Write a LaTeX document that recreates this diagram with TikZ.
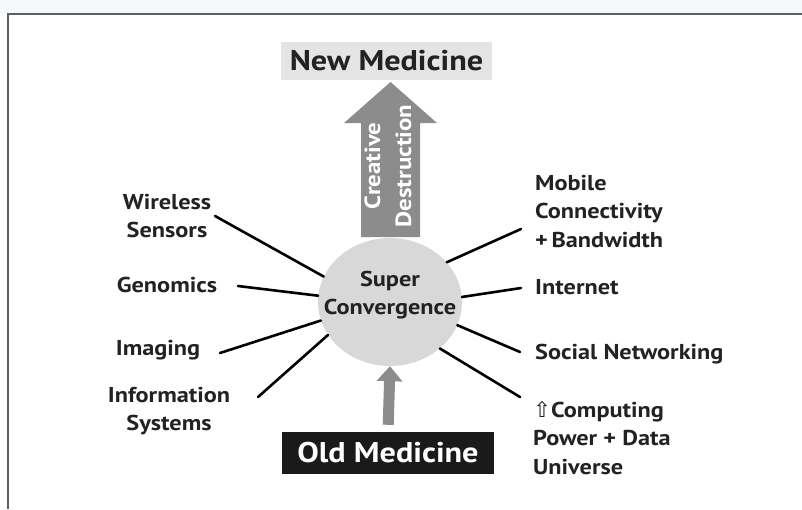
\documentclass[tikz,border=0pt]{standalone}
\usepackage{fontspec}
\setmainfont{PT Sans}[FakeStretch=1.13]
\newfontfamily\symfont{DejaVu Sans}
\usetikzlibrary{arrows.meta,shapes.geometric}
\definecolor{framec}{HTML}{5A6068}
\definecolor{topbg}{HTML}{F7F8FA}
\definecolor{boxgray}{HTML}{E4E4E4}
\definecolor{arrgray}{HTML}{8C8C8C}
\definecolor{ellgray}{HTML}{D8D8D8}
\definecolor{txt}{HTML}{222222}
\definecolor{oldbox}{HTML}{1A1A1A}
\tikzset{
  lbl/.style={text=txt, font=\bfseries\fontsize{21.5}{28.5}\selectfont, inner sep=0pt},
  spoke/.style={draw=black, line width=2.6pt, line cap=round},
}
\begin{document}
\begin{tikzpicture}[x=1pt,y=-1pt]
\useasboundingbox (0,0) rectangle (802,509);
\fill[white] (0,0) rectangle (802,509);
\fill[topbg] (0,0) rectangle (802,13);
\draw[framec, line width=1.3pt] (8,14) -- (8,509);
\draw[framec, line width=2.6pt] (7,14) -- (802,14);

% New Medicine
\node[fill=boxgray, minimum width=211pt, minimum height=38pt, inner sep=0pt,
      text=txt, font=\bfseries\fontsize{28.5}{30}\selectfont] (new) at (386.5,61) {New Medicine};

% ellipse
\node[ellipse, fill=ellgray, minimum width=144pt, minimum height=128pt, inner sep=0pt] (sc) at (390,302) {};
\node[align=center, text=txt, inner sep=0pt, font=\bfseries\fontsize{21.5}{28}\selectfont] (sctext) at (390,295) {Super\\Convergence};

% big arrow
\fill[arrgray] (361,237) -- (361,123) -- (344,123) -- (390.5,82) -- (437,123) -- (420,123) -- (420,237) -- cycle;
\node[rotate=90, text=white, align=center, inner sep=0pt,
      font=\bfseries\fontsize{22}{31}\selectfont] (cd) at (388,166) {Creative\\Destruction};

% Old medicine
\node[fill=oldbox, minimum width=212pt, minimum height=42pt, inner sep=0pt,
      text=white, font=\bfseries\fontsize{28.5}{30}\selectfont] (old) at (388,453) {Old Medicine};
\draw[arrgray, line width=11pt, -{Triangle[width=25pt,length=15pt]}, shorten <=7pt] (old.north) -- (sc.south);

% left labels
\node[lbl, align=center] (ws) at (167,216) {Wireless\\Sensors};
\node[lbl] (gen) at (167,285) {Genomics};
\node[lbl] (img) at (158,350) {Imaging};
\node[lbl, align=center] (is) at (169,411) {Information\\Systems};
% right labels
\node[lbl, align=left, anchor=west] (mob) at (535,211.5) {Mobile\\Connectivity\\+\,Bandwidth};
\node[lbl, anchor=west] (int) at (535,287) {Internet};
\node[lbl, anchor=west] (soc) at (535,354) {Social Networking};
\node[lbl, align=left, anchor=west] (cmp) at (533,438) {{\symfont\mdseries ⇧}Computing\\Power + Data\\Universe};

% spoke ends
\coordinate (wsE) at (215,216);
\coordinate (genE) at (238,286);
\coordinate (imgE) at (220,353);
\coordinate (isE) at (258,397);
\coordinate (mobW) at (521,229);
\coordinate (intW) at (521,288);
\coordinate (socW) at (520,352);
\coordinate (cmpW) at (520,397);

\draw[spoke] (wsE) -- (sc.159);
\draw[spoke] (genE) -- (sc.175);
\draw[spoke] (imgE) -- (sc.195);
\draw[spoke] (isE) -- (sc.208);
\draw[spoke] (mobW) -- (sc.35);
\draw[spoke] (intW) -- (sc.4);
\draw[spoke] (socW) -- (sc.341);
\draw[spoke] (cmpW) -- (sc.317);
\end{tikzpicture}
\end{document}
